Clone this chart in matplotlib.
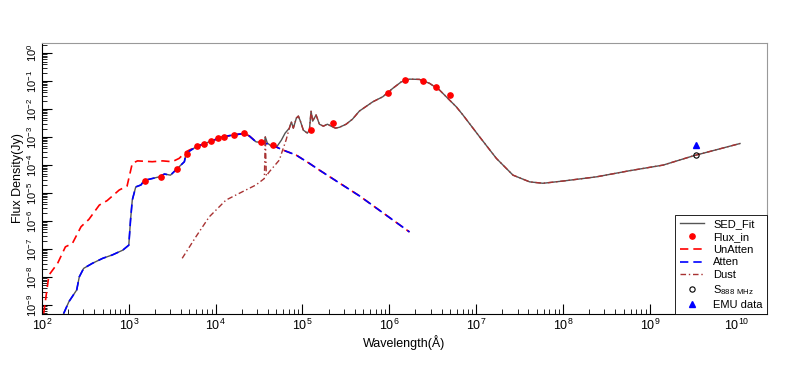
import numpy as np
import matplotlib
matplotlib.use("Agg")
import matplotlib.pyplot as plt
from matplotlib.ticker import LogLocator, NullFormatter

plt.rcParams['font.family'] = ['Liberation Sans', 'DejaVu Sans']
plt.rcParams['mathtext.default'] = 'regular'

# ---- data, stored as log10(wavelength / Angstrom), log10(flux / Jy) ----
# attenuated stellar component
atten_lw = [2.25, 2.31, 2.40, 2.43, 2.48, 2.58, 2.70, 2.81, 2.93, 3.00, 3.02, 3.04,
            3.08, 3.14, 3.18, 3.23, 3.35, 3.41, 3.48, 3.52, 3.58, 3.64, 3.66, 3.773,
            3.926, 4.080, 4.195, 4.330, 4.388, 4.465, 4.541, 4.656, 4.772, 4.926,
            5.080, 5.195, 5.656, 6.233]
atten_lf = [-9.30, -8.88, -8.46, -7.99, -7.69, -7.51, -7.33, -7.21, -7.04, -6.86, -5.96, -5.25,
            -4.78, -4.71, -4.54, -4.51, -4.42, -4.32, -4.36, -4.24, -4.06, -3.88, -3.58, -3.35,
            -3.17, -2.99, -2.93, -2.87, -2.96, -3.17, -3.20, -3.29, -3.46, -3.64,
            -3.94, -4.18, -5.10, -6.39]

# unattenuated stellar component
unatten_lw = [2.02, 2.08, 2.18, 2.27, 2.35, 2.45, 2.54, 2.66, 2.75, 2.89, 2.98, 3.04,
              3.10, 3.27, 3.39, 3.50, 3.58, 3.66, 3.773, 3.926, 4.080, 4.195, 4.330,
              4.388, 4.465, 4.541, 4.656, 4.772, 4.926, 5.080, 5.195, 5.656, 6.233]
unatten_lf = [-9.30, -7.93, -7.51, -6.92, -6.80, -6.20, -5.94, -5.43, -5.27, -4.89, -4.75, -3.94,
              -3.85, -3.88, -3.85, -3.88, -3.76, -3.52, -3.35, -3.17, -2.99, -2.93, -2.87,
              -2.96, -3.17, -3.20, -3.29, -3.46, -3.64, -3.94, -4.18, -5.10, -6.39]

# dust emission (rising part, then follows the total fit)
dust_lw = [3.615, 3.773, 3.926, 4.119, 4.310, 4.465, 4.561, 4.572, 4.584, 4.618, 4.734,
           4.772, 4.811]
dust_lf = [-7.33, -6.56, -5.85, -5.25, -4.95, -4.71, -4.48, -3.00, -4.39, -4.24, -3.82,
           -3.46, -3.11]

# total SED fit, IR / radio part (UV-optical follows the attenuated curve)
fit_ir_lw = [4.541, 4.565, 4.572, 4.595, 4.64, 4.71, 4.757, 4.80, 4.849, 4.872, 4.895,
             4.930, 4.953, 4.976, 5.010, 5.056, 5.080, 5.099, 5.118, 5.157, 5.195, 5.241,
             5.287, 5.330, 5.380, 5.426, 5.503, 5.576, 5.656, 5.810, 5.925, 6.040, 6.137,
             6.233, 6.348, 6.464, 6.579, 6.656, 6.772, 6.848, 7.040, 7.233, 7.425, 7.617,
             7.770, 8.001, 8.386, 8.770, 9.155, 9.501, 10.039]
fit_ir_lf = [-3.20, -3.15, -2.99, -3.21, -3.32, -3.32, -3.11, -2.86, -2.68, -2.46, -2.68,
             -2.32, -2.25, -2.43, -2.75, -2.86, -2.75, -2.07, -2.43, -2.21, -2.54, -2.61,
             -2.54, -2.61, -2.68, -2.65, -2.54, -2.36, -2.07, -1.74, -1.56, -1.26, -1.03,
             -0.93, -0.94, -1.08, -1.32, -1.56, -1.92, -2.21, -2.99, -3.76, -4.36, -4.60,
             -4.65, -4.57, -4.42, -4.20, -4.00, -3.67, -3.23]

# photometry used in the fit
fluxin_lw = [3.188, 3.369, 3.554, 3.669, 3.791, 3.869, 3.946, 4.022, 4.099, 4.215,
             4.330, 4.526, 4.664, 5.099, 5.348, 5.982, 6.186, 6.386, 6.533, 6.694]
fluxin_lf = [-4.56, -4.42, -4.15, -3.61, -3.32, -3.23, -3.13, -3.05, -2.99, -2.93,
             -2.87, -3.18, -3.27, -2.73, -2.51, -1.42, -0.96, -1.00, -1.20, -1.49]

s888_lw, s888_lf = [9.53], [-3.64]
emu_lw, emu_lf = [9.53], [-3.29]

x_decades = list(range(2, 11))
y_decades = list(range(-9, 1))

# build curves
atten_w, atten_f = 10**np.array(atten_lw), 10**np.array(atten_lf)
unatten_w, unatten_f = 10**np.array(unatten_lw), 10**np.array(unatten_lf)

uv = np.array(atten_lw) < 4.54
fit_lw = np.concatenate([np.array(atten_lw)[uv], fit_ir_lw])
fit_lf = np.concatenate([np.array(atten_lf)[uv], fit_ir_lf])
tail = np.array(fit_ir_lw) >= 4.849
dust_w = 10**np.concatenate([dust_lw, np.array(fit_ir_lw)[tail]])
dust_f = 10**np.concatenate([dust_lf, np.array(fit_ir_lf)[tail]])

fig = plt.figure(figsize=(7.89, 3.68), dpi=100)
ax = fig.add_axes([0.0532, 0.1467, 0.9189, 0.7364])

ax.plot(10**fit_lw, 10**fit_lf, color='#555555', lw=1.0, label='SED_Fit')
ax.plot(10**np.array(fluxin_lw), 10**np.array(fluxin_lf), 'o', color='red', ms=3.8,
        ls='none', label='Flux_in', zorder=5)
ax.plot(unatten_w, unatten_f, color='red', lw=1.2, ls=(0, (5, 3)), label='UnAtten')
ax.plot(atten_w, atten_f, color='blue', lw=1.2, ls=(0, (5, 3)), label='Atten')
ax.plot(dust_w, dust_f, color='#a83232', lw=1.0, ls=(0, (4, 2, 1, 2)), label='Dust')
ax.plot(10**np.array(s888_lw), 10**np.array(s888_lf), 'o', mfc='none', mec='black',
        mew=0.8, ms=3.8, ls='none', label=r'S$_{888\ MHz}$', zorder=6)
ax.plot(10**np.array(emu_lw), 10**np.array(emu_lf), '^', color='blue', ms=4,
        ls='none', label='EMU data', zorder=6)

ax.set_xscale('log')
ax.set_yscale('log')
ax.set_xlim(1e2, 10**10.35)
ax.set_ylim(10**-9.32, 10**0.36)

ax.set_xticks([10.0**k for k in x_decades])
ax.set_yticks([10.0**k for k in y_decades])
ax.xaxis.set_minor_locator(LogLocator(base=10, subs=np.arange(2, 10), numticks=200))
ax.yaxis.set_minor_locator(LogLocator(base=10, subs=np.arange(2, 10), numticks=200))
ax.xaxis.set_minor_formatter(NullFormatter())
ax.yaxis.set_minor_formatter(NullFormatter())

ax.tick_params(which='both', direction='in', top=False, right=False)
ax.tick_params(axis='x', labelsize=9, pad=3)
ax.tick_params(axis='y', labelsize=8, pad=2)
ax.tick_params(which='major', length=7, width=0.8)
ax.tick_params(which='minor', length=3.5, width=0.6)
for lab in ax.get_yticklabels():
    lab.set_rotation(90)
    lab.set_va('center')
for s in ['top', 'right']:
    ax.spines[s].set_color('#999999')
ax.spines['left'].set_linewidth(0.8)
ax.spines['bottom'].set_linewidth(0.8)

ax.set_xlabel('Wavelength(Å)', fontsize=9, labelpad=1)
ax.set_ylabel('Flux Density(Jy)', fontsize=9, labelpad=1)

leg = ax.legend(loc='lower right', bbox_to_anchor=(1.0, 0.0), fontsize=8,
                frameon=True, fancybox=False, edgecolor='black', framealpha=1,
                handlelength=2.2, borderpad=0.4, labelspacing=0.25, handletextpad=0.8,
                borderaxespad=0)
leg.get_frame().set_linewidth(0.6)

fig.savefig('out.png', dpi=100)
